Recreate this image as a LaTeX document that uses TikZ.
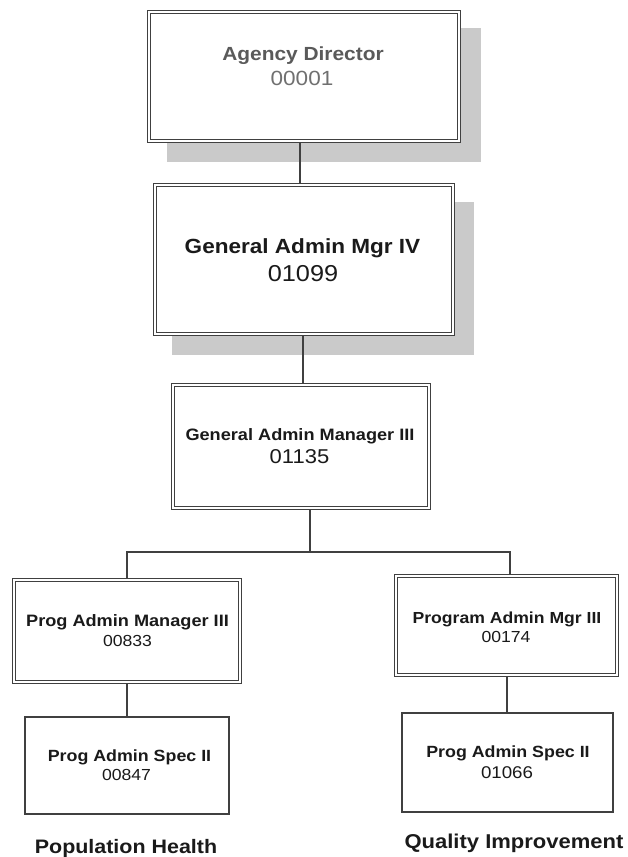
\documentclass[tikz,border=0pt]{standalone}
\usepackage{fontspec}
\setmainfont{Liberation Sans}[FakeStretch=1.1]
\usetikzlibrary{backgrounds}
\definecolor{edgec}{HTML}{404040}
\definecolor{shadowc}{HTML}{CACACA}
\definecolor{txtc}{HTML}{1A1A1A}
\definecolor{greyt}{HTML}{5A5A5A}
\definecolor{greyn}{HTML}{707070}
\tikzset{
  dblbox/.style={draw=edgec, line width=1.1pt, double=white, double distance=2.6pt, fill=white, inner sep=0pt, outer sep=0pt},
  sglbox/.style={draw=edgec, line width=1.3pt, fill=white, inner sep=0pt, outer sep=0pt},
  txt/.style={anchor=base, inner sep=0pt, text=txtc},
  conn/.style={draw=edgec, line width=1.2pt},
  shadowfill/.style={fill=shadowc}
}
\newcommand{\fsz}[1]{\fontsize{#1}{#1}\selectfont}
\begin{document}
\begin{tikzpicture}[x=1pt,y=-1pt]
\useasboundingbox (0,0) rectangle (627,857);
% boxes
\node[dblbox, minimum width=310pt, minimum height=129pt] (b1) at (304,76.5) {};
\node[dblbox, minimum width=298pt, minimum height=149pt] (b2) at (304,259.5) {};
\node[dblbox, minimum width=256pt, minimum height=123pt] (b3) at (301,446.5) {};
\node[dblbox, minimum width=226pt, minimum height=102pt] (b4) at (127,631) {};
\node[dblbox, minimum width=221pt, minimum height=99pt] (b5) at (506.5,625.5) {};
\node[sglbox, minimum width=204pt, minimum height=97pt] (b6) at (127,765.5) {};
\node[sglbox, minimum width=211pt, minimum height=99pt] (b7) at (507.5,762.5) {};
% texts
\node[txt, text=greyt] (t1a) at (303,60) {\fsz{19}\bfseries Agency Director};
\node[txt, text=greyn] (t1b) at (302,85) {\fsz{20.5}00001};
\node[txt] (t2a) at (302.5,253) {\fsz{20.5}\bfseries General Admin Mgr IV};
\node[txt] (t2b) at (303,281) {\fsz{23}01099};
\node[txt] (t3a) at (300,440) {\fsz{16.5}\bfseries General Admin Manager III};
\node[txt] (t3b) at (299.5,463) {\fsz{20}01135};
\node[txt] (t4a) at (127.5,626) {\fsz{16.5}\bfseries Prog Admin Manager III};
\node[txt] (t4b) at (127.5,646) {\fsz{16}00833};
\node[txt] (t5a) at (507,623) {\fsz{16}\bfseries Program Admin Mgr III};
\node[txt] (t5b) at (506,642) {\fsz{16}00174};
\node[txt] (t6a) at (129.5,761) {\fsz{16.2}\bfseries Prog Admin Spec II};
\node[txt] (t6b) at (126.5,780) {\fsz{16}00847};
\node[txt] (t7a) at (508,757) {\fsz{16.2}\bfseries Prog Admin Spec II};
\node[txt] (t7b) at (507,778) {\fsz{17}01066};
\node[txt] (l1) at (126,853) {\fsz{19.5}\bfseries Population Health};
\node[txt] (l2) at (514,848) {\fsz{20}\bfseries Quality Improvement};
% connector coordinates
\coordinate (c1) at (300,163);
\coordinate (c2) at (303,360);
\coordinate (j) at (310,552);
\coordinate (jl) at (127,552);
\coordinate (jr) at (510,552);
\coordinate (c4) at (127,700);
\coordinate (c5) at (507,695);
\begin{scope}[on background layer]
% white page
\fill[white] (0,0) rectangle (627,857);
% shadows
\fill[shadowfill] ([shift={(18,16)}]b1.north west) rectangle ([shift={(22,21)}]b1.south east);
\fill[shadowfill] ([shift={(17,17)}]b2.north west) rectangle ([shift={(21,21)}]b2.south east);
% connectors
\draw[conn] (b1.south -| c1) -- (b2.north -| c1);
\draw[conn] (b2.south -| c2) -- (b3.north -| c2);
\draw[conn] (b3.south -| j) -- (j);
\draw[conn] (b4.north -| jl) -- (jl) -- (jr) -- (b5.north -| jr);
\draw[conn] (b4.south -| c4) -- (b6.north -| c4);
\draw[conn] (b5.south -| c5) -- (b7.north -| c5);
\end{scope}
\end{tikzpicture}
\end{document}
